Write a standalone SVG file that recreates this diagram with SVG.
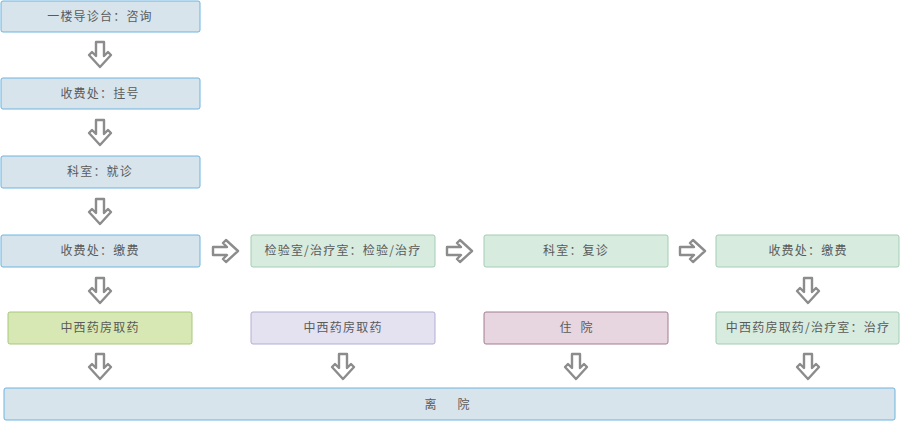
<svg xmlns="http://www.w3.org/2000/svg" width="900" height="421" viewBox="0 0 900 421">
<defs>
<style>
.b{fill:#d8e4eb;stroke:#6db4df;stroke-width:1}
.g{fill:#d7ebdf;stroke:#a3cdb3;stroke-width:1}
.y{fill:#d8e8b4;stroke:#a6c87c;stroke-width:1}
.l{fill:#e4e2f0;stroke:#b2add4;stroke-width:1}
.p{fill:#e7d5df;stroke:#a47d90;stroke-width:1}
text{font-family:"Noto Sans CJK SC","Noto Sans",sans-serif;font-size:12px;fill:#5a5a5a;text-anchor:middle;letter-spacing:1.2px}
.ar{fill:#fff;stroke:#8c8c8c;stroke-width:2.4;stroke-linejoin:round}
</style>
<path id="da" d="M-4,-13 L4,-13 L4,1 L8,-3 L11,0 L0,12 L-11,0 L-8,-3 L-4,1 Z"/>
<path id="ra" d="M-13,-4 L1,-4 L-3,-8 L0,-11 L12,0 L0,11 L-3,8 L1,4 L-13,4 Z"/>
</defs>
<g id="n1"><rect class="b" x="1" y="1" width="199" height="31" rx="2"/><text x="100" y="21">一楼导诊台：咨询</text></g>
<g id="n2"><rect class="b" x="1" y="78" width="199" height="31" rx="2"/><text x="100" y="98">收费处：挂号</text></g>
<g id="n3"><rect class="b" x="1" y="156" width="199" height="32" rx="2"/><text x="100" y="176">科室：就诊</text></g>
<g id="n4"><rect class="b" x="1" y="235" width="199" height="32" rx="2"/><text x="100" y="255">收费处：缴费</text></g>
<g id="n5"><rect class="g" x="251" y="235" width="184" height="32" rx="2"/><text x="343" y="255">检验室/治疗室：检验/治疗</text></g>
<g id="n6"><rect class="g" x="484" y="235" width="184" height="32" rx="2"/><text x="576" y="255">科室：复诊</text></g>
<g id="n7"><rect class="g" x="716" y="235" width="183" height="32" rx="2"/><text x="808" y="255">收费处：缴费</text></g>
<g id="n8"><rect class="y" x="8" y="312" width="184" height="32" rx="2"/><text x="100" y="332">中西药房取药</text></g>
<g id="n9"><rect class="l" x="251" y="312" width="184" height="32" rx="2"/><text x="343" y="332">中西药房取药</text></g>
<g id="n10"><rect class="p" x="484" y="312" width="184" height="32" rx="2"/><text x="576" y="332"><tspan x="566">住</tspan><tspan x="587">院</tspan></text></g>
<g id="n11"><rect class="g" x="716" y="312" width="183" height="32" rx="2"/><text x="808" y="332">中西药房取药/治疗室：治疗</text></g>
<g id="n12"><rect class="b" x="4" y="388" width="891" height="32" rx="2"/><text x="448" y="409"><tspan x="431">离</tspan><tspan x="464">院</tspan></text></g>
<g id="connectors">
<use href="#da" class="ar" transform="translate(100,55)"/>
<use href="#da" class="ar" transform="translate(100,133)"/>
<use href="#da" class="ar" transform="translate(100,212)"/>
<use href="#da" class="ar" transform="translate(100,291)"/>
<use href="#da" class="ar" transform="translate(808,291)"/>
<use href="#da" class="ar" transform="translate(100,367)"/>
<use href="#da" class="ar" transform="translate(343,367)"/>
<use href="#da" class="ar" transform="translate(576,367)"/>
<use href="#da" class="ar" transform="translate(808,367)"/>
<use href="#ra" class="ar" transform="translate(226,251)"/>
<use href="#ra" class="ar" transform="translate(460,251)"/>
<use href="#ra" class="ar" transform="translate(693,251)"/>
</g>
</svg>
